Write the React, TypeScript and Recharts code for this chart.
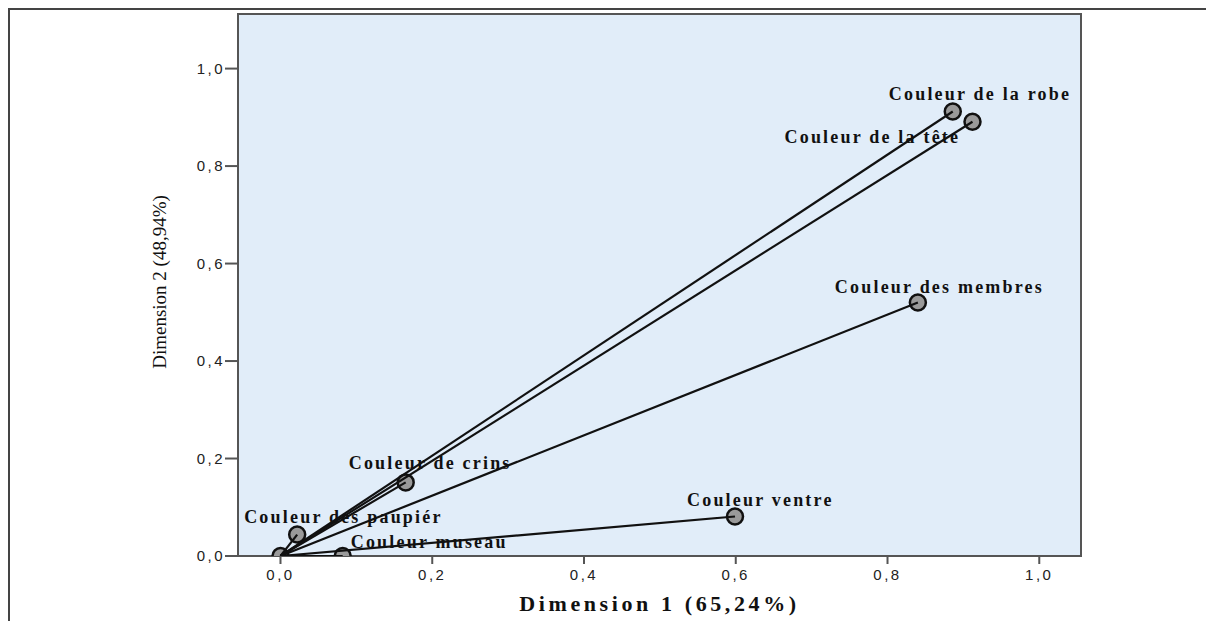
import { ScatterChart, Scatter, XAxis, YAxis, ReferenceArea, Label } from 'recharts'

// loadings
const variables = [
  'Couleur de la robe',
  'Couleur de la tête',
  'Couleur des membres',
  'Couleur de crins',
  'Couleur ventre',
  'Couleur des paupiér',
  'Couleur museau',
]
const dim1 = [0.886, 0.912, 0.84, 0.165, 0.599, 0.022, 0.082]
const dim2 = [0.912, 0.891, 0.52, 0.151, 0.081, 0.044, 0.0]
const ticks = [0, 0.2, 0.4, 0.6, 0.8, 1.0]
const xDomain = [-0.056, 1.055]
const yDomain = [0, 1.112]

// where each label sits relative to its marker (left edge, vertical centre)
const labelOffsets: Record<string, [number, number]> = {
  'Couleur de la robe': [-64, -17],
  'Couleur de la tête': [-188, 15],
  'Couleur des membres': [-83, -16],
  'Couleur de crins': [-57, -19],
  'Couleur ventre': [-48, -17],
  'Couleur des paupiér': [-53, -18],
  'Couleur museau': [8, -14],
}

const points = variables.map((name, i) => ({ name, x: dim1[i], y: dim2[i] }))
const origin = [{ name: '', x: 0, y: 0 }]

const axisColor = '#555'
const serif = "'Liberation Serif', 'Times New Roman', serif"
const tickStyle = { fontSize: 15, fill: '#222', fontFamily: "'Liberation Sans', Arial, sans-serif", letterSpacing: 2.5 }
const fmt = (v: number) => v.toFixed(1).replace('.', ',')

const renderPoint = (props: any) => {
  const { cx, cy, payload } = props
  const off = labelOffsets[payload.name]
  return (
    <g>
      <circle cx={cx} cy={cy} r={8} fill="#9a9a9a" stroke="#111" strokeWidth={2.5} />
      {off && (
        <text
          x={cx + off[0]}
          y={cy + off[1]}
          dominantBaseline="central"
          fontFamily={serif}
          fontWeight="bold"
          fontSize={18}
          letterSpacing={2.2}
          fill="#111"
        >
          {payload.name}
        </text>
      )}
    </g>
  )
}

export default function App() {
  return (
    <div
      style={{
        position: 'fixed',
        left: 8,
        top: 8,
        width: 1260,
        height: 613,
        boxSizing: 'border-box',
        borderTop: '2px solid #444',
        borderLeft: '2px solid #444',
        background: '#fff',
      }}
    >
      <ScatterChart width={1196} height={611} margin={{ top: 4, right: 125, bottom: 15, left: 160 }}>
        <XAxis
          type="number"
          dataKey="x"
          domain={xDomain}
          ticks={ticks}
          allowDataOverflow
          tickFormatter={fmt}
          tick={tickStyle}
          tickSize={8}
          tickMargin={5}
          height={50}
          stroke={axisColor}
          strokeWidth={2}
        >
          <Label
            content={({ viewBox }: any) => (
              <text
                x={viewBox.x + viewBox.width / 2}
                y={viewBox.y + 47}
                textAnchor="middle"
                dominantBaseline="central"
                fontFamily={serif}
                fontWeight="bold"
                fontSize={22}
                letterSpacing={3.6}
                fill="#111"
              >
                Dimension 1 (65,24%)
              </text>
            )}
          />
        </XAxis>
        <YAxis
          type="number"
          dataKey="y"
          domain={yDomain}
          ticks={ticks}
          allowDataOverflow
          tickFormatter={fmt}
          tick={tickStyle}
          tickSize={13}
          tickMargin={0}
          width={68}
          stroke={axisColor}
          strokeWidth={2}
        >
          <Label
            content={({ viewBox }: any) => {
              const cx = viewBox.x - 11
              const cy = viewBox.y + viewBox.height / 2 - 3
              return (
                <text
                  x={cx}
                  y={cy}
                  transform={`rotate(-90 ${cx} ${cy})`}
                  textAnchor="middle"
                  dominantBaseline="central"
                  fontFamily={serif}
                  fontSize={19}
                  fill="#111"
                >
                  Dimension 2 (48,94%)
                </text>
              )
            }}
          />
        </YAxis>
        <ReferenceArea
          x1={xDomain[0]}
          x2={xDomain[1]}
          y1={yDomain[0]}
          y2={yDomain[1]}
          fill="#e1edf9"
          fillOpacity={1}
          stroke={axisColor}
          strokeWidth={2}
        />
        <Scatter data={origin} shape={renderPoint} isAnimationActive={false} />
        <Scatter data={points} shape={renderPoint} isAnimationActive={false} />
        {points.map((p) => (
          <Scatter
            key={p.name}
            data={[origin[0], p]}
            line={{ stroke: '#111', strokeWidth: 2.2 }}
            shape={() => <g />}
            isAnimationActive={false}
          />
        ))}
      </ScatterChart>
    </div>
  )
}
